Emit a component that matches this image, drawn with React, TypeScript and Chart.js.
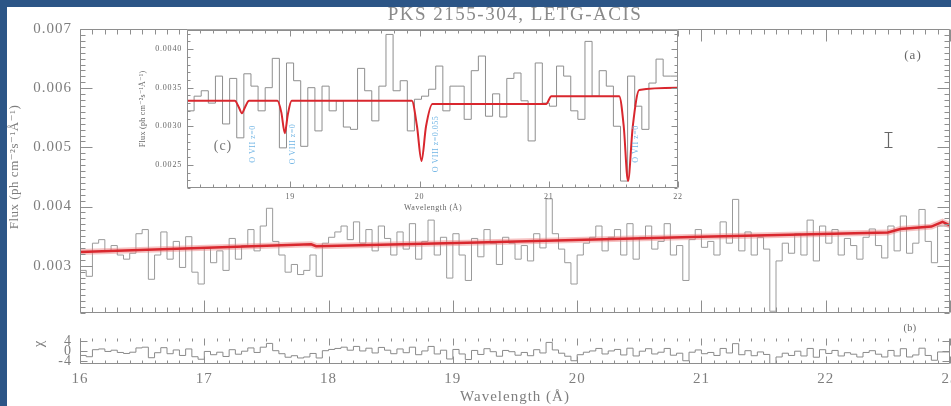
import { useEffect, useRef } from "react";
import { Chart, registerables } from "chart.js";

Chart.register(...registerables);

// ---------- main spectrum: flux per 0.05 Å bin starting at 16.0 Å ----------
const WAVE_START = 16.0;
const BIN_WIDTH = 0.05;
const FLUX = [
  0.00302, 0.00292, 0.00282, 0.00338, 0.00344, 0.00325, 0.00334, 0.00318, 0.00311, 0.00321,
  0.00354, 0.00361, 0.00277, 0.00318, 0.00357, 0.00311, 0.00341, 0.00297, 0.00349, 0.00289,
  0.00269, 0.0033, 0.00305, 0.00325, 0.00292, 0.00346, 0.00311, 0.00334, 0.00361, 0.00325,
  0.00367, 0.00397, 0.00341, 0.00318, 0.00289, 0.00302, 0.00285, 0.00292, 0.00318, 0.00282,
  0.00338, 0.00348, 0.00357, 0.00367, 0.00344, 0.00374, 0.00338, 0.00361, 0.00325, 0.00367,
  0.00346, 0.00318, 0.00357, 0.00328, 0.00371, 0.00311, 0.00341, 0.00377, 0.00318, 0.00348,
  0.00279, 0.00354, 0.00318, 0.00275, 0.00346, 0.00315, 0.00361, 0.00338, 0.00302, 0.00348,
  0.00338, 0.00311, 0.00334, 0.00308, 0.00354, 0.0033, 0.00413, 0.00354, 0.00328, 0.00305,
  0.00269, 0.00318, 0.00338, 0.00348, 0.00367, 0.00325, 0.00348, 0.00361, 0.00318, 0.00371,
  0.00311, 0.00348, 0.00367, 0.00328, 0.00341, 0.00371, 0.00318, 0.00334, 0.00275, 0.00344,
  0.00361, 0.00331, 0.00341, 0.00318, 0.00374, 0.00338, 0.00412, 0.00325, 0.00357, 0.00318,
  0.00348, 0.00328, 0.00223, 0.00308, 0.00338, 0.00321, 0.00354, 0.00318, 0.00377, 0.00308,
  0.00367, 0.00338, 0.00361, 0.00318, 0.00346, 0.00334, 0.00311, 0.00348, 0.00362, 0.00334,
  0.00313, 0.00367, 0.00325, 0.00384, 0.00321, 0.00338, 0.00395, 0.00341, 0.00305, 0.00367,
];
// normalised residuals for the same bins
const CHI = [
  -1.1, -1.6, -2.1, 0.7, 1.0, 0.0, 0.5, -0.4, -0.8, -0.3,
  1.4, 1.7, -2.5, -0.5, 1.5, -0.9, 0.6, -1.6, 1.0, -2.1,
  -3.1, 0.0, -1.3, -0.3, -2.0, 0.7, -1.1, 0.1, 1.4, -0.4,
  1.7, 3.2, 0.3, -0.9, -2.3, -1.7, -2.6, -2.2, -0.8, -2.6,
  0.3, 0.8, 1.2, 1.7, 0.5, 2.0, 0.2, 1.3, -0.6, 1.6,
  0.5, -0.9, 1.0, -0.5, 1.7, -1.3, 0.2, 2.0, -1.0, 0.5,
  -3.0, 0.8, -1.0, -3.2, 0.4, -1.2, 1.1, -0.1, -1.9, 0.4,
  -0.1, -1.5, -0.4, -1.7, 0.7, -0.6, 3.6, 0.6, -0.7, -1.9,
  -3.7, -1.3, -0.3, 0.2, 1.2, -1.0, 0.2, 0.8, -1.4, 1.3,
  -1.8, 0.1, 1.1, -1.0, -0.3, 1.2, -1.5, -0.7, -3.7, -0.3,
  0.6, -0.9, -0.4, -1.6, 1.2, -0.6, 3.1, -1.3, 0.3, -1.7,
  -0.2, -1.2, -4.8, -2.2, -0.7, -1.6, 0.1, -1.8, 1.2, -2.3,
  0.7, -0.8, 0.4, -1.8, -0.5, -1.1, -2.2, -0.4, 0.3, -1.1,
  -2.2, 0.4, -1.8, 1.1, -2.2, -1.4, 1.3, -1.6, -3.5, -0.2,
];
// continuum + absorption model
const MODEL_WAVE = [16.0, 17.86, 17.9, 19.2, 21.0, 22.5, 22.6, 22.85, 22.94, 23.0];
const MODEL_FLUX = [0.00323, 0.00336, 0.00333, 0.00339, 0.00349, 0.00356, 0.00362, 0.00366, 0.00374, 0.00368];

// ---------- zoomed spectrum (panel c) ----------
const INSET_START = 18.2;
const INSET_BIN = 0.055;
const INSET_FLUX = [
  0.00375, 0.0032, 0.00339, 0.00346, 0.0033, 0.00365, 0.00303, 0.00362, 0.00285, 0.00368,
  0.00352, 0.0032, 0.0035, 0.00388, 0.00272, 0.00382, 0.00359, 0.00274, 0.0035, 0.00294,
  0.00352, 0.0032, 0.00333, 0.00299, 0.00296, 0.00375, 0.00346, 0.00307, 0.00352, 0.00419,
  0.00346, 0.00359, 0.00294, 0.00335, 0.00339, 0.00348, 0.00378, 0.0032, 0.00352, 0.00352,
  0.00309, 0.00372, 0.00391, 0.00313, 0.00342, 0.00312, 0.00362, 0.00369, 0.00333, 0.00281,
  0.00382, 0.0033, 0.00326, 0.00378, 0.00365, 0.0032, 0.00309, 0.0041, 0.00339, 0.00372,
  0.00352, 0.003, 0.00229, 0.00365, 0.00326, 0.00296, 0.00356, 0.00387, 0.00365,
];
const INSET_MODEL_WAVE = [
  18.2, 18.57, 18.6, 18.625, 18.65, 18.68, 18.9, 18.93, 18.957, 18.98, 19.01,
  19.94, 19.98, 20.015, 20.05, 20.1, 20.98, 21.02, 21.545, 21.58, 21.613, 21.65, 21.7, 22.0,
];
const INSET_MODEL_FLUX = [
  0.00333, 0.00333, 0.00325, 0.00317, 0.00325, 0.00333, 0.00333, 0.00318, 0.00291, 0.00315, 0.00333,
  0.00333, 0.003, 0.00255, 0.003, 0.00329, 0.00329, 0.00339, 0.00339, 0.003, 0.00229, 0.003, 0.00347, 0.0035,
];
const LINE_NAMES = ["O VII z=0", "O VIII z=0", "O VIII z=0.055", "O VII z=0"];
const LINE_LABEL_WAVE = [18.71, 19.02, 20.13, 21.675];
const LINE_LABEL_FLUX = 0.00277;

// ---------- ticks ----------
const X_TICKS = [16, 17, 18, 19, 20, 21, 22, 23];
const FLUX_TICKS = [0.003, 0.004, 0.005, 0.006, 0.007];
const CHI_TICKS = [-4, 0, 4];
const INSET_X_TICKS = [19, 20, 21, 22];
const INSET_Y_TICKS = [0.0025, 0.003, 0.0035, 0.004];

// typical 1-sigma error bar
const ERR_WAVE = 22.5;
const ERR_FLUX = 0.00513;
const ERR_HALF = 0.00013;

const SERIF = '"Liberation Serif", "DejaVu Serif", serif';
const TEXT = "#7e7e7e";
const FRAME = "#8e8e8e";
const DATA_GRAY = "#9a9a9a";
const MODEL_RED = "#d9272e";

const pairs = (xs: number[], ys: number[]) => xs.map((x, i) => ({ x, y: ys[i] }));
const histogram = (start: number, width: number, values: number[]) => {
  const pts = values.map((v, i) => ({ x: start + i * width, y: v }));
  pts.push({ x: start + values.length * width, y: values[values.length - 1] });
  return pts;
};
const tickValues = (min: number, max: number, step: number) => {
  const out: number[] = [];
  if (!step) return out;
  for (let k = Math.ceil(min / step - 1e-6); k * step <= max + step * 1e-6; k++) out.push(k * step);
  return out;
};

type FrameSpec = {
  xMinor: number; xMajor: number[]; yMinor: number; yMajor: number[];
  major: number; minor: number; topLine: boolean;
};

function framePlugin(id: string, f: FrameSpec) {
  return {
    id,
    afterDatasetsDraw(chart: any) {
      const { ctx, chartArea: a } = chart;
      const xs = chart.scales.x;
      const ys = chart.scales.y;
      const L = Math.round(a.left) + 0.5;
      const R = Math.round(a.right) - 0.5;
      const T = Math.round(a.top) + 0.5;
      const B = Math.round(a.bottom) - 0.5;
      ctx.save();
      ctx.strokeStyle = FRAME;
      ctx.lineWidth = 1;
      ctx.beginPath();
      ctx.moveTo(L, T); ctx.lineTo(L, B); ctx.lineTo(R, B); ctx.lineTo(R, T);
      if (f.topLine) ctx.lineTo(L, T);
      const near = (v: number, arr: number[], s: number) => arr.some((m) => Math.abs(m - v) < s * 0.1);
      const xTick = (v: number, len: number) => {
        const p = Math.round(xs.getPixelForValue(v)) + 0.5;
        ctx.moveTo(p, B); ctx.lineTo(p, B - len);
        ctx.moveTo(p, T); ctx.lineTo(p, T + len);
      };
      const yTick = (v: number, len: number) => {
        const p = Math.round(ys.getPixelForValue(v)) + 0.5;
        ctx.moveTo(L, p); ctx.lineTo(L + len, p);
        ctx.moveTo(R, p); ctx.lineTo(R - len, p);
      };
      f.xMajor.forEach((v) => xTick(v, f.major));
      tickValues(xs.min, xs.max, f.xMinor).forEach((v) => { if (!near(v, f.xMajor, f.xMinor)) xTick(v, f.minor); });
      f.yMajor.forEach((v) => yTick(v, f.major));
      tickValues(ys.min, ys.max, f.yMinor).forEach((v) => { if (!near(v, f.yMajor, f.yMinor)) yTick(v, f.minor); });
      ctx.stroke();
      ctx.restore();
    },
  };
}

function spacing(id: string, px: string) {
  return {
    id,
    beforeDraw(chart: any) { chart.ctx.letterSpacing = px; },
  };
}

function text(ctx: any, s: string, x: number, y: number, font: string, color: string, rot = 0, ls = "0px") {
  ctx.save();
  ctx.translate(x, y);
  if (rot) ctx.rotate(rot);
  ctx.font = font;
  ctx.fillStyle = color;
  ctx.letterSpacing = ls;
  ctx.textAlign = "center";
  ctx.textBaseline = "middle";
  ctx.fillText(s, 0, 0);
  ctx.restore();
}

const tickFont = (size: number) => ({ family: SERIF, size });

export default function App() {
  const mainRef = useRef<HTMLCanvasElement>(null);
  const chiRef = useRef<HTMLCanvasElement>(null);
  const insetRef = useRef<HTMLCanvasElement>(null);

  useEffect(() => {
    const common = {
      responsive: false,
      animation: false as const,
      devicePixelRatio: 1,
      events: [] as any[],
      elements: { point: { radius: 0 }, line: { tension: 0, fill: false } },
      plugins: { legend: { display: false }, tooltip: { enabled: false }, title: { display: false } },
    };

    // ---- panel (a): spectrum with model ----
    const main = new Chart(mainRef.current as HTMLCanvasElement, {
      type: "line",
      data: {
        datasets: [
          { data: pairs(MODEL_WAVE, MODEL_FLUX), borderColor: MODEL_RED, borderWidth: 2.5, order: 0 },
          { data: pairs(MODEL_WAVE, MODEL_FLUX), borderColor: "rgba(236,120,120,0.45)", borderWidth: 6, order: 1 },
          { data: histogram(WAVE_START, BIN_WIDTH, FLUX), borderColor: DATA_GRAY, borderWidth: 1, stepped: "after", order: 2 },
        ],
      } as any,
      options: {
        ...common,
        layout: { padding: { left: 0, top: 29, right: 50, bottom: 8 } },
        scales: {
          x: { type: "linear", min: 16, max: 23, display: false },
          y: {
            type: "linear", min: 0.0022, max: 0.007,
            afterFit: (s: any) => { s.width = 80; },
            afterBuildTicks: (s: any) => { s.ticks = FLUX_TICKS.map((value) => ({ value })); },
            grid: { display: false, drawTicks: false },
            border: { display: false },
            ticks: { padding: 8, color: TEXT, font: tickFont(15), autoSkip: false, callback: (v: any) => Number(v).toFixed(3) },
          },
        },
      } as any,
      plugins: [
        spacing("mainSpacing", "1px"),
        framePlugin("mainFrame", { xMinor: 0.1, xMajor: X_TICKS, yMinor: 0.0001, yMajor: FLUX_TICKS, major: 12, minor: 5, topLine: true }),
        {
          id: "mainText",
          afterDraw(chart: any) {
            const { ctx, chartArea: a, scales } = chart;
            text(ctx, "PKS 2155-304, LETG-ACIS", (a.left + a.right) / 2, 15, `19px ${SERIF}`, "#8a8a8a", 0, "1.5px");
            text(ctx, "Flux (ph cm\u207B\u00B2s\u207B\u00B9\u00C5\u207B\u00B9)", 15, 167, `13px ${SERIF}`, TEXT, -Math.PI / 2, "0.5px");
            text(ctx, "(a)", a.right - 37, a.top + 27, `13px ${SERIF}`, "#666", 0, "1px");
            // representative error bar
            const x = Math.round(scales.x.getPixelForValue(ERR_WAVE)) + 0.5;
            const y1 = Math.round(scales.y.getPixelForValue(ERR_FLUX + ERR_HALF)) + 0.5;
            const y2 = Math.round(scales.y.getPixelForValue(ERR_FLUX - ERR_HALF)) + 0.5;
            ctx.save();
            ctx.strokeStyle = "#666";
            ctx.lineWidth = 1.2;
            ctx.beginPath();
            ctx.moveTo(x, y1); ctx.lineTo(x, y2);
            ctx.moveTo(x - 4, y1); ctx.lineTo(x + 4, y1);
            ctx.moveTo(x - 4, y2); ctx.lineTo(x + 4, y2);
            ctx.stroke();
            ctx.restore();
          },
        },
      ],
    });

    // ---- panel (b): residuals ----
    const chi = new Chart(chiRef.current as HTMLCanvasElement, {
      type: "line",
      data: {
        datasets: [
          { data: histogram(WAVE_START, BIN_WIDTH, CHI), borderColor: "#8a8a8a", borderWidth: 1, stepped: "after" },
        ],
      } as any,
      options: {
        ...common,
        layout: { padding: { left: 0, top: 0, right: 50, bottom: 0 } },
        scales: {
          x: {
            type: "linear", min: 16, max: 23, position: "bottom",
            afterFit: (s: any) => { s.height = 42; },
            afterBuildTicks: (s: any) => { s.ticks = X_TICKS.map((value) => ({ value })); },
            grid: { display: false, drawTicks: false },
            border: { display: false },
            ticks: { padding: 6, color: TEXT, font: tickFont(15), autoSkip: false, maxRotation: 0, callback: (v: any) => String(v) },
          },
          y: {
            type: "linear", min: -5, max: 5.2,
            afterFit: (s: any) => { s.width = 80; },
            afterBuildTicks: (s: any) => { s.ticks = CHI_TICKS.map((value) => ({ value })); },
            grid: { display: false, drawTicks: false },
            border: { display: false },
            ticks: { padding: 8, color: TEXT, font: tickFont(14), autoSkip: false, callback: (v: any) => String(v) },
          },
        },
      } as any,
      plugins: [
        spacing("chiSpacing", "1px"),
        framePlugin("chiFrame", { xMinor: 0.1, xMajor: X_TICKS, yMinor: 0, yMajor: CHI_TICKS, major: 7, minor: 3, topLine: false }),
        {
          id: "chiText",
          afterDraw(chart: any) {
            const { ctx, chartArea: a } = chart;
            text(ctx, "\u03C7", 39, 22, `15px ${SERIF}`, TEXT, -Math.PI / 2);
            text(ctx, "(b)", a.right - 40, 6, `10px ${SERIF}`, "#666", 0, "0.5px");
            text(ctx, "Wavelength (\u00C5)", (a.left + a.right) / 2, 75, `15px ${SERIF}`, TEXT, 0, "1px");
          },
        },
      ],
    });

    // ---- panel (c): zoom on the absorption lines ----
    const inset = new Chart(insetRef.current as HTMLCanvasElement, {
      type: "line",
      data: {
        datasets: [
          {
            data: pairs(INSET_MODEL_WAVE, INSET_MODEL_FLUX), borderColor: MODEL_RED, borderWidth: 2,
            cubicInterpolationMode: "monotone", order: 0,
          },
          { data: histogram(INSET_START, INSET_BIN, INSET_FLUX), borderColor: "#8e8e8e", borderWidth: 1, stepped: "after", order: 1 },
        ],
      } as any,
      options: {
        ...common,
        layout: { padding: { left: 0, top: 9, right: 42, bottom: 0 } },
        scales: {
          x: {
            type: "linear", min: 18.2, max: 22, position: "bottom",
            afterFit: (s: any) => { s.height = 32; },
            afterBuildTicks: (s: any) => { s.ticks = INSET_X_TICKS.map((value) => ({ value })); },
            grid: { display: false, drawTicks: false },
            border: { display: false },
            ticks: { padding: 4, color: "#666", font: tickFont(8), autoSkip: false, maxRotation: 0, callback: (v: any) => String(v) },
          },
          y: {
            type: "linear", min: 0.0022, max: 0.00425,
            afterFit: (s: any) => { s.width = 67; },
            afterBuildTicks: (s: any) => { s.ticks = INSET_Y_TICKS.map((value) => ({ value })); },
            grid: { display: false, drawTicks: false },
            border: { display: false },
            ticks: { padding: 5, color: "#666", font: tickFont(8), autoSkip: false, callback: (v: any) => Number(v).toFixed(4) },
          },
        },
      } as any,
      plugins: [
        spacing("insetSpacing", "0.8px"),
        {
          id: "insetBg",
          beforeDatasetsDraw(chart: any) {
            const { ctx, chartArea: a } = chart;
            ctx.save();
            ctx.fillStyle = "#ffffff";
            ctx.fillRect(a.left, a.top, a.right - a.left, a.bottom - a.top);
            ctx.restore();
          },
        },
        framePlugin("insetFrame", { xMinor: 0.1, xMajor: INSET_X_TICKS, yMinor: 0.0001, yMajor: INSET_Y_TICKS, major: 6, minor: 3, topLine: true }),
        {
          id: "insetText",
          afterDraw(chart: any) {
            const { ctx, chartArea: a, scales } = chart;
            text(ctx, "Flux (ph cm\u207B\u00B2s\u207B\u00B9\u00C5\u207B\u00B9)", 23, (a.top + a.bottom) / 2, `8px ${SERIF}`, "#666", -Math.PI / 2, "0.3px");
            text(ctx, "Wavelength (\u00C5)", 313, a.bottom + 20, `8px ${SERIF}`, "#666", 0, "0.5px");
            text(ctx, "(c)", a.left + 36, 126, `14px ${SERIF}`, "#777", 0, "1px");
            LINE_NAMES.forEach((name, i) => {
              const x = scales.x.getPixelForValue(LINE_LABEL_WAVE[i]);
              const y = scales.y.getPixelForValue(LINE_LABEL_FLUX);
              text(ctx, name, x, y, `8px ${SERIF}`, "#6fb4e4", -Math.PI / 2, "0.5px");
            });
          },
        },
      ],
    });

    return () => {
      main.destroy();
      chi.destroy();
      inset.destroy();
    };
  }, []);

  const abs = (left: number, top: number, w: number, h: number) =>
    ({ position: "absolute", left, top, width: w, height: h, display: "block" }) as const;

  return (
    <div style={{ position: "fixed", left: 0, top: 0, width: 951, height: 406, overflow: "hidden", background: "#2c5586" }}>
      <div style={{ position: "absolute", left: 7, top: 7, right: 0, bottom: 0, background: "#ffffff" }} />
      <canvas ref={mainRef} width={1000} height={330} style={abs(0, 0, 1000, 330)} />
      <canvas ref={chiRef} width={1000} height={84} style={abs(0, 322, 1000, 84)} />
      <canvas ref={insetRef} width={600} height={200} style={abs(120, 20, 600, 200)} />
    </div>
  );
}
